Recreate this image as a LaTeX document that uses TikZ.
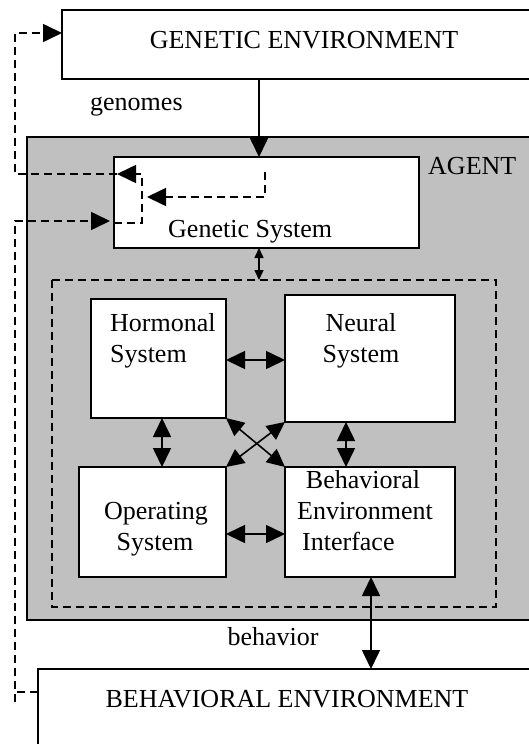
\documentclass[tikz,border=0pt]{standalone}
\usepackage{fontspec}
\setmainfont{Liberation Serif}
\usetikzlibrary{arrows.meta}
\definecolor{agentgray}{RGB}{192,192,192}
\begin{document}
\begin{tikzpicture}[x=1pt,y=-1pt,
  box/.style={draw,line width=1.7pt,fill=white,anchor=north west,inner sep=0pt,outer sep=0pt},
  lbl/.style={anchor=base,inner sep=0pt,font=\fontsize{26}{31}\selectfont},
  lbll/.style={anchor=base west,inner sep=0pt,font=\fontsize{26}{31}\selectfont},
  bigtip/.tip={Triangle[length=19pt,width=18pt]},
  midtip/.tip={Triangle[length=18pt,width=17pt]},
  smalltip/.tip={Triangle[length=10pt,width=9pt]},
  ar/.style={line width=1.6pt,-bigtip},
  dar/.style={line width=1.6pt,bigtip-bigtip},
  dsh/.style={line width=1.6pt,dash pattern=on 8pt off 5pt},
]
\useasboundingbox (0,0) rectangle (529,744);
\clip (0,0) rectangle (529,744);

% boxes
\node[box] (ge) at (62,10) [minimum width=520pt, minimum height=69pt] {};
\node[box,fill=agentgray] (ag) at (27,137) [minimum width=560pt, minimum height=483pt] {};
\node[box] (gs) at (114,157) [minimum width=305pt, minimum height=91pt] {};
\node[box,draw=none,fill=none] (db) at (52,280) [minimum width=444pt, minimum height=327pt] {};
\draw[dsh] (db.north west) rectangle (db.south east);
\node[box] (hs) at (91,299) [minimum width=135pt, minimum height=119pt] {};
\node[box] (ns) at (285,295) [minimum width=170pt, minimum height=127pt] {};
\node[box] (os) at (79,467) [minimum width=147pt, minimum height=110pt] {};
\node[box] (bei) at (285,467) [minimum width=170pt, minimum height=110pt] {};
\node[box] (be) at (38,669) [minimum width=550pt, minimum height=200pt] {};

% labels
\node[lbl] (tge) at (304,48) {GENETIC ENVIRONMENT};
\node[lbll] (tgen) at (90,110) {genomes};
\node[lbll] (tag) at (428,174) {AGENT};
\node[lbll] (tgs) at (168,237) {Genetic System};
\node[lbll] (ths1) at (110,331) {Hormonal};
\node[lbll] (ths2) at (110,362) {System};
\node[lbl] (tns1) at (361,331) {Neural};
\node[lbl] (tns2) at (361,362) {System};
\node[lbl] (tos1) at (156,519) {Operating};
\node[lbl] (tos2) at (155,550) {System};
\node[lbl] (tb1) at (363,488) {Behavioral};
\node[lbl] (tb2) at (365,519) {Environment};
\node[lbll] (tb3) at (302,550) {Interface};
\node[lbl] (tbeh) at (273,645) {behavior};
\node[lbl] (tbe) at (287,707) {BEHAVIORAL ENVIRONMENT};

% solid connectors
\coordinate (gx) at (259,0);
\coordinate (bx) at (371,0);
\draw[ar] (ge.south -| gx) -- (gs.north -| gx);
\draw[line width=1.6pt,smalltip-smalltip] (gs.south -| gx) -- (db.north -| gx);
\draw[dar] (bei.south -| bx) -- (be.north -| bx);
\coordinate (hny) at (0,360);
\coordinate (oby) at (0,534);
\coordinate (hox) at (162,0);
\coordinate (nbx) at (346,0);
\draw[dar] (hs.east |- hny) -- (ns.west |- hny);
\draw[dar] (os.east |- oby) -- (bei.west |- oby);
\draw[dar] (hs.south -| hox) -- (os.north -| hox);
\draw[dar] (ns.south -| nbx) -- (bei.north -| nbx);
\draw[line width=1.6pt,midtip-midtip] (hs.south east) -- (bei.north west);
\draw[line width=1.6pt,midtip-midtip] (ns.south west) -- (os.north east);

% dashed connectors
\coordinate (c1) at (142,223);
\coordinate (c2) at (142,174);
\coordinate (c3) at (15,174);
\coordinate (c4) at (15,33);
\coordinate (c5) at (15,692);
\coordinate (c6) at (15,702);
\coordinate (c7) at (15,221);
\coordinate (c8) at (265,172);
\coordinate (c9) at (265,197);
\coordinate (c10) at (147,197);
\draw[dsh,-bigtip] (gs.west |- c1) -- (c1) -- (c2) -- ([xshift=3pt]gs.west |- c2);
\draw[dsh,-bigtip] ([xshift=3pt]gs.west |- c2) -- (c3) -- (c4) -- (ge.west |- c4);
\draw[dsh] (be.west |- c5) -- (c5);
\draw[dsh,-bigtip,shorten >=4pt] (c6) -- (c7) -- (gs.west |- c7);
\draw[dsh,-bigtip] (c8) -- (c9) -- (c10);
\end{tikzpicture}
\end{document}
